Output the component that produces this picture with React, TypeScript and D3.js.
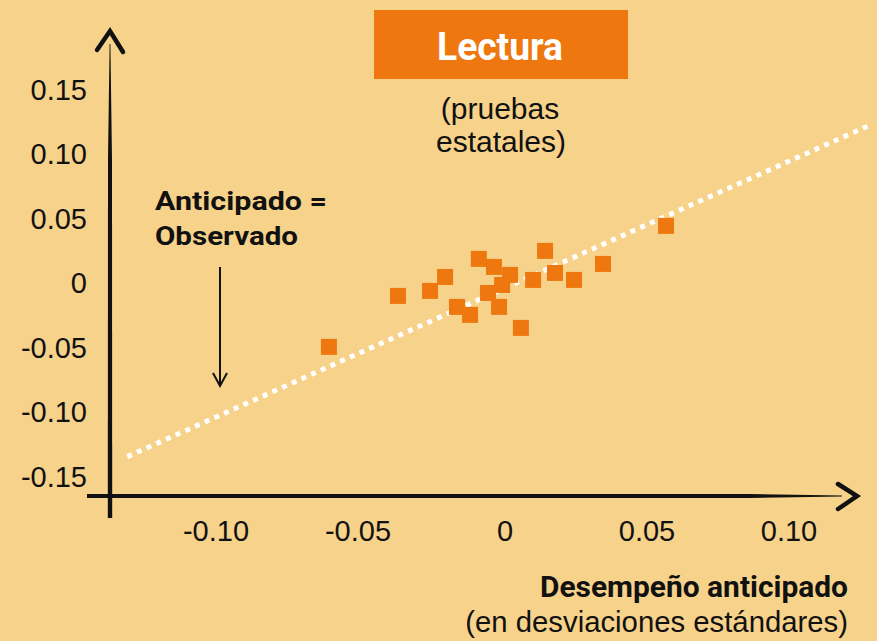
import React from "react";
import * as d3 from "d3";

const xTicks = [-0.1, -0.05, 0, 0.05, 0.1];
const xTickLabels = ["-0.10", "-0.05", "0", "0.05", "0.10"];
const yTicks = [0.15, 0.1, 0.05, 0, -0.05, -0.1, -0.15];
const yTickLabels = ["0.15", "0.10", "0.05", "0", "-0.05", "-0.10", "-0.15"];

// anticipated (x) vs observed (y)
const anticipated = [
  -0.062, -0.0377, -0.0264, -0.0211, -0.0169, -0.0123, -0.0092, -0.0039, 0.0018,
  -0.006, -0.001, -0.0021, 0.0056, 0.0099, 0.0141, 0.0176, 0.0243, 0.0345, 0.0567,
];
const observed = [
  -0.0499, -0.0104, -0.0065, 0.0043, -0.0189, -0.0251, 0.0183, 0.0121, 0.0059,
  -0.0081, -0.0019, -0.0189, -0.0352, 0.002, 0.0245, 0.0074, 0.002, 0.0144, 0.0439,
];

const refLineX = [-0.133, 0.1285];
const refLineY = [-0.135, 0.122];

const BG = "#F7D28A";
const ORANGE = "#EE780F";
const INK = "#111111";
const SANS = "'Liberation Sans', Arial, sans-serif";
const NARROW = "'Liberation Sans Narrow', 'Roboto', 'Liberation Sans', sans-serif";

export default function App() {
  const W = 877;
  const H = 641;
  const x = d3.scaleLinear().domain([-0.1, 0.1]).range([221, 789]);
  const y = d3.scaleLinear().domain([-0.15, 0.15]).range([476, 89]);

  const line = d3
    .line<[number, number]>()
    .x((d) => x(d[0]))
    .y((d) => y(d[1]));
  const refPts: [number, number][] = refLineX.map((v, i) => [v, refLineY[i]]);

  const pts = anticipated.map((a, i) => ({ a, o: observed[i] }));
  const S = 16;

  // tapered axis shapes
  const yAxisX = 110;
  const xAxisY = 496;
  const yAxisPath = `M${yAxisX - 0.4},44 L${yAxisX + 0.4},44 L${yAxisX + 2},160 L${yAxisX + 2.2},518 L${yAxisX - 2.2},518 L${yAxisX - 2},160 Z`;
  const xAxisPath = `M87,${xAxisY - 2} L750,${xAxisY - 2} L842,${xAxisY - 0.4} L842,${xAxisY + 0.4} L750,${xAxisY + 2} L87,${xAxisY + 2} Z`;

  return (
    <svg
      width={W}
      height={H}
      style={{ position: "absolute", left: 0, top: 0 }}
      xmlns="http://www.w3.org/2000/svg"
    >
      <rect x={0} y={0} width={W} height={H} fill={BG} />

      {/* title box */}
      <rect x={374} y={10} width={254} height={69} fill={ORANGE} />
      <text
        x={500}
        y={60}
        textAnchor="middle"
        fill="#fff"
        fontFamily={NARROW}
        fontWeight="bold"
        fontSize={38}
        textLength={126}
        lengthAdjust="spacingAndGlyphs"
      >
        Lectura
      </text>
      <text x={500} y={119} textAnchor="middle" fill={INK} fontFamily={SANS} fontSize={30}>
        (pruebas
      </text>
      <text x={501} y={152} textAnchor="middle" fill={INK} fontFamily={SANS} fontSize={30}>
        estatales)
      </text>

      {/* axes */}
      <path d={yAxisPath} fill={INK} />
      <path d={xAxisPath} fill={INK} />
      <path
        d={`M97,50 L110,31 L123,52`}
        fill="none"
        stroke={INK}
        strokeWidth={4.5}
        strokeLinecap="round"
        strokeLinejoin="miter"
      />
      <path
        d={`M838,484 L857,496 L838,509`}
        fill="none"
        stroke={INK}
        strokeWidth={4.5}
        strokeLinecap="round"
        strokeLinejoin="miter"
      />

      {/* y tick labels */}
      {yTicks.map((v, i) => (
        <text
          key={"y" + i}
          x={87}
          y={y(v) + 10.5}
          textAnchor="end"
          fill={INK}
          fontFamily={SANS}
          fontSize={29}
        >
          {yTickLabels[i]}
        </text>
      ))}

      {/* x tick labels */}
      {xTicks.map((v, i) => (
        <text
          key={"x" + i}
          x={x(v) - (v < 0 ? 5 : 0)}
          y={541}
          textAnchor="middle"
          fill={INK}
          fontFamily={SANS}
          fontSize={29}
        >
          {xTickLabels[i]}
        </text>
      ))}

      {/* reference line */}
      <path
        d={line(refPts) || ""}
        fill="none"
        stroke="#ffffff"
        strokeWidth={5}
        strokeDasharray="5,5.6"
      />

      {/* points */}
      {pts.map((p, i) => (
        <rect
          key={"p" + i}
          x={x(p.a) - S / 2}
          y={y(p.o) - S / 2}
          width={S}
          height={S}
          fill={ORANGE}
        />
      ))}

      {/* annotation */}
      <text
        x={155}
        y={210}
        fill={INK}
        fontFamily={NARROW}
        fontWeight="bold"
        fontSize={25}
        textLength={172}
        lengthAdjust="spacingAndGlyphs"
      >
        Anticipado =
      </text>
      <text
        x={155}
        y={245}
        fill={INK}
        fontFamily={NARROW}
        fontWeight="bold"
        fontSize={25}
        textLength={143}
        lengthAdjust="spacingAndGlyphs"
      >
        Observado
      </text>
      <line x1={220} y1={267} x2={220} y2={386} stroke={INK} strokeWidth={2} />
      <path d="M213,373 L220,386 L227,373" fill="none" stroke={INK} strokeWidth={2} />

      {/* x axis title */}
      <text
        x={848}
        y={597}
        textAnchor="end"
        fill={INK}
        fontFamily={NARROW}
        fontWeight="bold"
        fontSize={30}
        textLength={308}
        lengthAdjust="spacingAndGlyphs"
      >
        Desempeño anticipado
      </text>
      <text x={848} y={632} textAnchor="end" fill={INK} fontFamily={SANS} fontSize={29.3}>
        (en desviaciones estándares)
      </text>
    </svg>
  );
}
